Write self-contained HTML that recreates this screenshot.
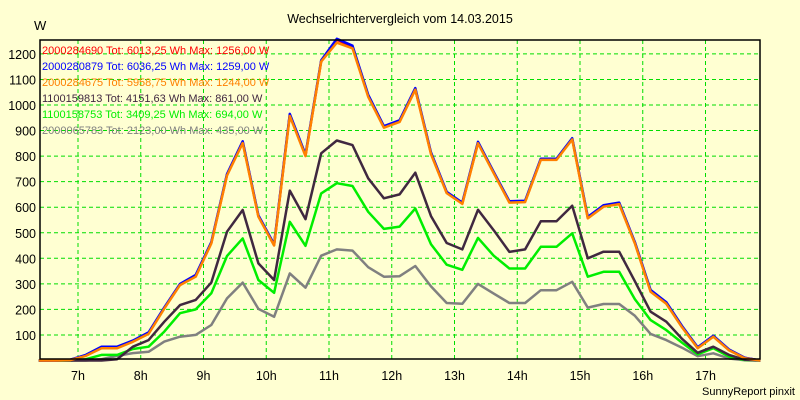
<!DOCTYPE html>
<html><head><meta charset="utf-8"><style>
html,body{margin:0;padding:0;background:#FFFFD2;}
svg{display:block;font-family:"Liberation Sans",sans-serif;}
</style></head><body>
<svg id="chart" width="800" height="400" viewBox="0 0 800 400">
<rect x="0" y="0" width="800" height="400" fill="#FFFFD2"/>
<text x="400" y="23" text-anchor="middle" font-size="12.5" fill="#000">Wechselrichtervergleich vom 14.03.2015</text>
<text x="34" y="30" font-size="13" fill="#000">W</text>
<g id="grid"></g>
<g id="yticks"></g>
<g id="xticks"></g>
<g id="series"></g>
<g id="legend"></g>
<rect x="40" y="40" width="720" height="319" fill="none" stroke="#000" stroke-width="1.5"/>
<text x="795" y="395" text-anchor="end" font-size="11" fill="#000">SunnyReport pinxit</text>
</svg>
<script>
const times = [6.375,6.625,6.875,7.125,7.375,7.625,7.875,8.125,8.375,8.625,8.875,9.125,9.375,9.625,9.875,10.125,10.375,10.625,10.875,11.125,11.375,11.625,11.875,12.125,12.375,12.625,12.875,13.125,13.375,13.625,13.875,14.125,14.375,14.625,14.875,15.125,15.375,15.625,15.875,16.125,16.375,16.625,16.875,17.125,17.375,17.625,17.875];
const redVals = [0,0,2,20,50,50,75,106,205,297,330,460,726,855,565,452,962,802,1172,1256,1228,1036,913,936,1062,810,657,615,852,735,620,622,787,787,868,558,605,615,460,272,225,132,50,95,41,10,0];
const blueVals = [0,0,3,22,54,54,78,110,208,300,335,463,730,858,568,455,965,806,1175,1259,1232,1040,917,940,1066,814,660,618,856,738,623,625,790,790,870,562,608,618,463,276,228,135,52,97,43,11,0];
const orangeVals = [0,0,2,18,48,48,73,104,203,295,328,458,724,851,563,450,957,800,1170,1244,1222,1032,911,934,1060,808,655,613,850,733,618,620,785,785,865,556,602,612,458,269,222,130,48,93,40,9,0];
const darkVals = [0,0,0,0,0,5,54,80,152,217,237,305,504,589,380,315,665,553,811,861,843,713,635,650,735,565,460,435,590,510,425,435,545,545,606,400,426,426,310,191,152,85,30,54,22,3,0];
const greenVals = [0,0,0,5,22,22,45,54,113,185,200,263,409,478,315,265,543,449,654,694,683,582,515,524,595,455,375,355,480,410,360,360,445,445,498,328,347,347,240,158,119,70,24,48,15,2,0];
const grayVals = [0,0,0,0,5,18,29,34,74,93,100,139,243,305,202,171,341,285,410,435,430,365,328,330,370,290,225,222,300,262,225,225,275,275,308,207,221,221,175,104,80,50,17,28,8,1,0];
const yTicks = [100,200,300,400,500,600,700,800,900,1000,1100,1200];
const xTicks = [7,8,9,10,11,12,13,14,15,16,17];
const seriesNames = ["red","blue","orange","dark","green","gray"];
const legendLabels = ["2000284690 Tot: 6013,25 Wh Max: 1256,00 W","2000280879 Tot: 6036,25 Wh Max: 1259,00 W","2000284675 Tot: 5958,75 Wh Max: 1244,00 W","1100159813 Tot: 4151,63 Wh Max: 861,00 W","1100158753 Tot: 3409,25 Wh Max: 694,00 W","2000065783 Tot: 2123,00 Wh Max: 435,00 W"];

const NS="http://www.w3.org/2000/svg";
const X0=40,X1=760,Y0=360.5,PXH=62.75;
function xs(h){return 78+(h-7)*PXH;}
function ys(v){return Y0-v*0.2555;}
const grid=document.getElementById('grid'),yt=document.getElementById('yticks'),xt=document.getElementById('xticks');
yTicks.forEach(v=>{
  const l=document.createElementNS(NS,'line');
  l.setAttribute('x1',X0);l.setAttribute('x2',X1);l.setAttribute('y1',ys(v));l.setAttribute('y2',ys(v));
  l.setAttribute('stroke','#00DD00');l.setAttribute('stroke-dasharray','4,3');l.setAttribute('stroke-width','1');
  
  
  grid.appendChild(l);
  const t=document.createElementNS(NS,'text');
  t.setAttribute('x',36);t.setAttribute('y',ys(v)+5);t.setAttribute('text-anchor','end');t.setAttribute('font-size','12.5');
  t.textContent=v;
  
  
  yt.appendChild(t);
});
xTicks.forEach(h=>{
  const l=document.createElementNS(NS,'line');
  l.setAttribute('x1',xs(h));l.setAttribute('x2',xs(h));l.setAttribute('y1',40);l.setAttribute('y2',359);
  l.setAttribute('stroke','#00DD00');l.setAttribute('stroke-dasharray','4,3');l.setAttribute('stroke-width','1');
  
  
  grid.appendChild(l);
  const t=document.createElementNS(NS,'text');
  t.setAttribute('x',xs(h));t.setAttribute('y',380);t.setAttribute('text-anchor','middle');t.setAttribute('font-size','12.5');
  t.textContent=h+'h';
  
  
  xt.appendChild(t);
});
const allVals=[redVals,blueVals,orangeVals,darkVals,greenVals,grayVals];
const colors=["#FF0000","#0000FF","#FF8000","#402840","#00EE00","#808080"];
const sg=document.getElementById('series');
// draw lower series first, top series last
[5,4,3,0,1,2].forEach(i=>{
  const p=document.createElementNS(NS,'polyline');
  p.setAttribute('points',allVals[i].map((v,k)=>xs(times[k]).toFixed(1)+','+ys(v).toFixed(1)).join(' '));
  p.setAttribute('fill','none');p.setAttribute('stroke',colors[i]);p.setAttribute('stroke-width','2.5');p.setAttribute('stroke-linejoin','round');
  
  
  sg.appendChild(p);
});
const lg=document.getElementById('legend');
legendLabels.forEach((s,i)=>{
  const t=document.createElementNS(NS,'text');
  t.setAttribute('x',42);t.setAttribute('y',54+i*16);t.setAttribute('font-size','11');t.setAttribute('fill',colors[i]);
  t.textContent=s;
  
  
  lg.appendChild(t);
});
</script>
</body></html>
